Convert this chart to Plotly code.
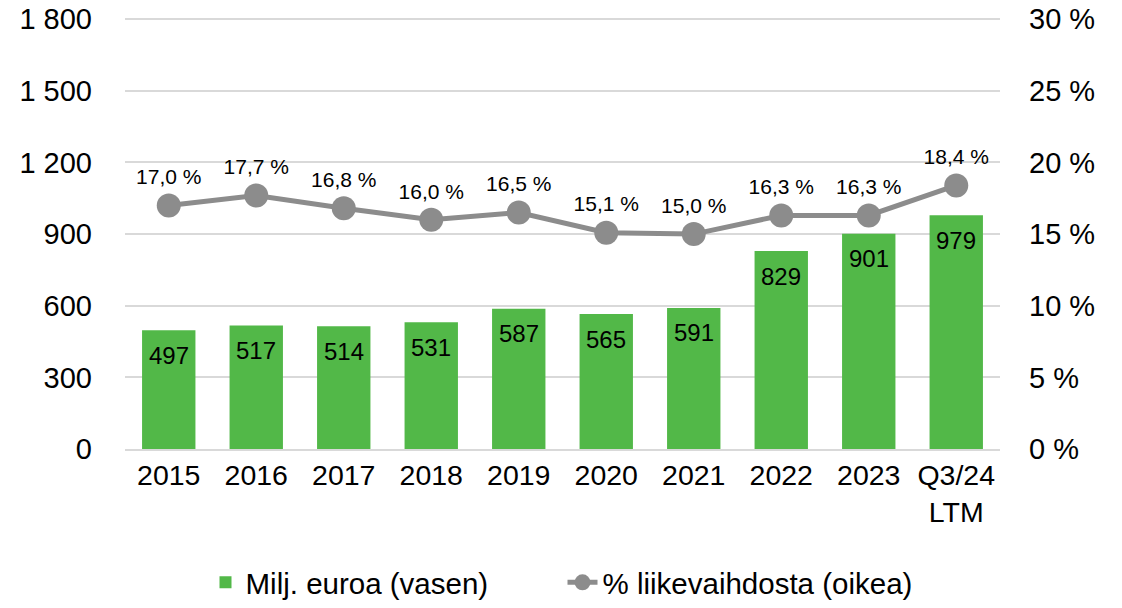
import plotly.graph_objects as go

years = ["2015", "2016", "2017", "2018", "2019", "2020", "2021", "2022", "2023", "Q3/24<br>LTM"]
ebitda_meur = [497, 517, 514, 531, 587, 565, 591, 829, 901, 979]
margin_pct = [17.0, 17.7, 16.8, 16.0, 16.5, 15.1, 15.0, 16.3, 16.3, 18.4]

left_ticks = [0, 300, 600, 900, 1200, 1500, 1800]
right_ticks = [0, 5, 10, 15, 20, 25, 30]

GREEN = "#52B848"
GREY = "#8C8C8C"
FONT = "Liberation Sans, Arial, sans-serif"

# a hair above 1800 so plotly keeps the top gridline
Y_TOP = 1805
Y2_TOP = 30 * Y_TOP / 1800

fig = go.Figure()
fig.add_trace(go.Bar(
    x=years, y=ebitda_meur, name="Milj. euroa (vasen)",
    marker=dict(color=GREEN, line=dict(width=0)),
))
fig.add_trace(go.Scatter(
    x=years, y=margin_pct, name="% liikevaihdosta (oikea)", yaxis="y2",
    mode="lines+markers+text",
    line=dict(color=GREY, width=5),
    marker=dict(size=24, color=GREY),
    text=[f"{v:.1f} %".replace(".", ",") for v in margin_pct],
    textposition="top center",
    textfont=dict(size=21, color="black", family=FONT),
))

# value labels sit a little below the top of each bar
# (annotations on a category axis take the category index)
for i, v in enumerate(ebitda_meur):
    fig.add_annotation(x=i, y=v, xref="x", yref="y", text=str(v), showarrow=False,
                       yshift=-25, font=dict(size=24, color="black", family=FONT))

# page body has an 8px margin, so the figure is shrunk by that much
fig.update_layout(
    width=1114, height=600,
    margin=dict(l=117, r=122, t=10, b=159, autoexpand=False),
    paper_bgcolor="white", plot_bgcolor="white",
    font=dict(family=FONT, color="black"),
    bargap=0.39,
    showlegend=True,
    legend=dict(orientation="h", x=0.5, xanchor="center", y=-0.31, yanchor="middle",
                font=dict(size=29.5), traceorder="normal",
                entrywidth=312, entrywidthmode="pixels"),
    xaxis=dict(type="category", range=[-0.5, len(years) - 0.5],
               tickfont=dict(size=28.5), showline=True,
               linecolor="#D9D9D9", linewidth=2,
               ticks="", showgrid=False, automargin=False),
    yaxis=dict(range=[0, Y_TOP], tickvals=left_ticks,
               ticktext=[f"{v:,}".replace(",", " ") for v in left_ticks],
               tickfont=dict(size=29), showgrid=True, gridcolor="#D9D9D9", gridwidth=1.5,
               zeroline=False, ticklabelstandoff=32, automargin=False,
               ticklabeloverflow="allow"),
    yaxis2=dict(range=[0, Y2_TOP], tickvals=right_ticks,
                ticktext=[f"{v} %" for v in right_ticks],
                tickfont=dict(size=29), overlaying="y", side="right",
                showgrid=False, zeroline=False, ticklabelstandoff=28, automargin=False,
                ticklabeloverflow="allow"),
)

fig.write_html("out.html")
